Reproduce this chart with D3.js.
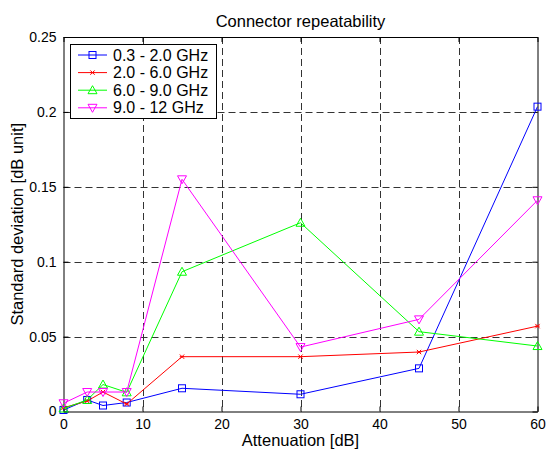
<!DOCTYPE html>
<html>
<head>
<meta charset="utf-8">
<script src="https://cdn.jsdelivr.net/npm/d3@7"></script>
<style>
 body{margin:0;background:#fff;}
 text{font-family:"Liberation Sans",Arial,sans-serif;}
</style>
</head>
<body>
<svg id="svg" width="547" height="450"></svg>
<script>
// attenuation steps (dB)
const atten = [0, 3, 5, 8, 15, 30, 45, 60];
// standard deviation per band
const band1 = [0.001, 0.0077, 0.004, 0.006, 0.0155, 0.0115, 0.0288, 0.2035]; // 0.3 - 2.0 GHz
const band2 = [0.0025, 0.007, 0.013, 0.005, 0.0366, 0.0366, 0.0397, 0.057];  // 2.0 - 6.0 GHz
const band3 = [0.002, 0.0077, 0.018, 0.0128, 0.0933, 0.126, 0.0533, 0.0437]; // 6.0 - 9.0 GHz
const band4 = [0.0055, 0.013, 0.013, 0.013, 0.155, 0.043, 0.0615, 0.141];    // 9.0 - 12 GHz
const bandNames = ['0.3 - 2.0 GHz', '2.0 - 6.0 GHz', '6.0 - 9.0 GHz', '9.0 - 12 GHz'];
const xTicks = [0, 10, 20, 30, 40, 50, 60];
const yTicks = [0, 0.05, 0.1, 0.15, 0.2, 0.25];

const series = [
  {name: bandNames[0], values: band1, color: '#0000ff', marker: 'square'},
  {name: bandNames[1], values: band2, color: '#ff0000', marker: 'star'},
  {name: bandNames[2], values: band3, color: '#00ff00', marker: 'up'},
  {name: bandNames[3], values: band4, color: '#ff00ff', marker: 'down'}
];

const pLeft = 63.5, pRight = 537.5, pTop = 37, pBottom = 411.5;
const svg = d3.select('#svg');

const x = d3.scaleLinear().domain([0, 60]).range([pLeft, pRight]);
const y = d3.scaleLinear().domain([0, 0.25]).range([pBottom, pTop]);
const fmt = d => d === 0 ? '0' : String(+d.toFixed(2));

// grid (dashed)
const grid = svg.append('g').attr('stroke', '#333').attr('stroke-width', 1).attr('stroke-dasharray', '7,4');
grid.selectAll('.gx').data(xTicks.slice(1, -1)).enter().append('line')
  .attr('x1', d => Math.round(x(d)) + 0.5).attr('x2', d => Math.round(x(d)) + 0.5)
  .attr('y1', pTop).attr('y2', pBottom);
grid.selectAll('.gy').data(yTicks.slice(1, -1)).enter().append('line')
  .attr('y1', d => Math.round(y(d)) + 0.5).attr('y2', d => Math.round(y(d)) + 0.5)
  .attr('x1', pLeft).attr('x2', pRight);

// axes with inward ticks
svg.append('g').attr('transform', `translate(0,${pBottom})`)
  .call(d3.axisBottom(x).tickValues(xTicks).tickFormat(fmt).tickSizeInner(-5).tickSizeOuter(0).tickPadding(8));
svg.append('g').attr('transform', `translate(${pLeft},0)`)
  .call(d3.axisLeft(y).tickValues(yTicks).tickFormat(fmt).tickSizeInner(-5).tickSizeOuter(0).tickPadding(7));
svg.append('g').attr('transform', `translate(0,${pTop})`)
  .call(d3.axisTop(x).tickValues(xTicks).tickFormat('').tickSizeInner(-5).tickSizeOuter(0));
svg.append('g').attr('transform', `translate(${pRight},0)`)
  .call(d3.axisRight(y).tickValues(yTicks).tickFormat('').tickSizeInner(-5).tickSizeOuter(0));
svg.selectAll('.domain').attr('stroke', '#000');
svg.selectAll('.tick line').attr('stroke', '#000');
svg.selectAll('.tick text').attr('font-size', 14).attr('fill', '#000')
  .style('font-family', '"Liberation Sans",Arial,sans-serif');

// lines
const line = d3.line().x((d, i) => x(atten[i])).y(d => y(d));
function marker(g, type, cx, cy, color) {
  if (type === 'square') {
    g.append('rect').attr('x', cx - 3.5).attr('y', cy - 3.5).attr('width', 7).attr('height', 7)
      .attr('fill', 'none').attr('stroke', color);
  } else if (type === 'up') {
    g.append('path').attr('d', `M${cx},${cy - 4.5}L${cx + 4.5},${cy + 3.5}L${cx - 4.5},${cy + 3.5}Z`)
      .attr('fill', 'none').attr('stroke', color);
  } else if (type === 'down') {
    g.append('path').attr('d', `M${cx},${cy + 4.5}L${cx + 4.5},${cy - 3.5}L${cx - 4.5},${cy - 3.5}Z`)
      .attr('fill', 'none').attr('stroke', color);
  } else {
    const s = 2.2;
    g.append('path').attr('d', `M${cx - s},${cy - s}L${cx + s},${cy + s}M${cx - s},${cy + s}L${cx + s},${cy - s}M${cx - s},${cy}L${cx + s},${cy}`)
      .attr('stroke', color);
  }
}
series.forEach(s => {
  const g = svg.append('g');
  g.append('path').datum(s.values).attr('d', line).attr('fill', 'none').attr('stroke', s.color).attr('stroke-width', 1);
  s.values.forEach((v, i) => marker(g, s.marker, x(atten[i]), y(v), s.color));
});

// legend
const lg = svg.append('g');
lg.append('rect').attr('x', 70.5).attr('y', 44.5).attr('width', 146).attr('height', 74)
  .attr('fill', '#fff').attr('stroke', '#000');
series.forEach((s, i) => {
  const ly = 55 + i * 17.6;
  lg.append('line').attr('x1', 78).attr('x2', 107).attr('y1', ly).attr('y2', ly).attr('stroke', s.color);
  marker(lg, s.marker, 92.5, ly, s.color);
  lg.append('text').attr('x', 113).attr('y', ly + 5.5).attr('font-size', 16).text(s.name);
});

// labels
svg.append('text').attr('x', (pLeft + pRight) / 2).attr('y', 27).attr('text-anchor', 'middle')
  .attr('font-size', 16.5).text('Connector repeatability');
svg.append('text').attr('x', (pLeft + pRight) / 2).attr('y', 446).attr('text-anchor', 'middle')
  .attr('font-size', 16.5).text('Attenuation [dB]');
svg.append('text').attr('transform', `translate(23,${(pTop + pBottom) / 2}) rotate(-90)`).attr('text-anchor', 'middle')
  .attr('font-size', 16.5).text('Standard deviation [dB unit]');
</script>
</body>
</html>
